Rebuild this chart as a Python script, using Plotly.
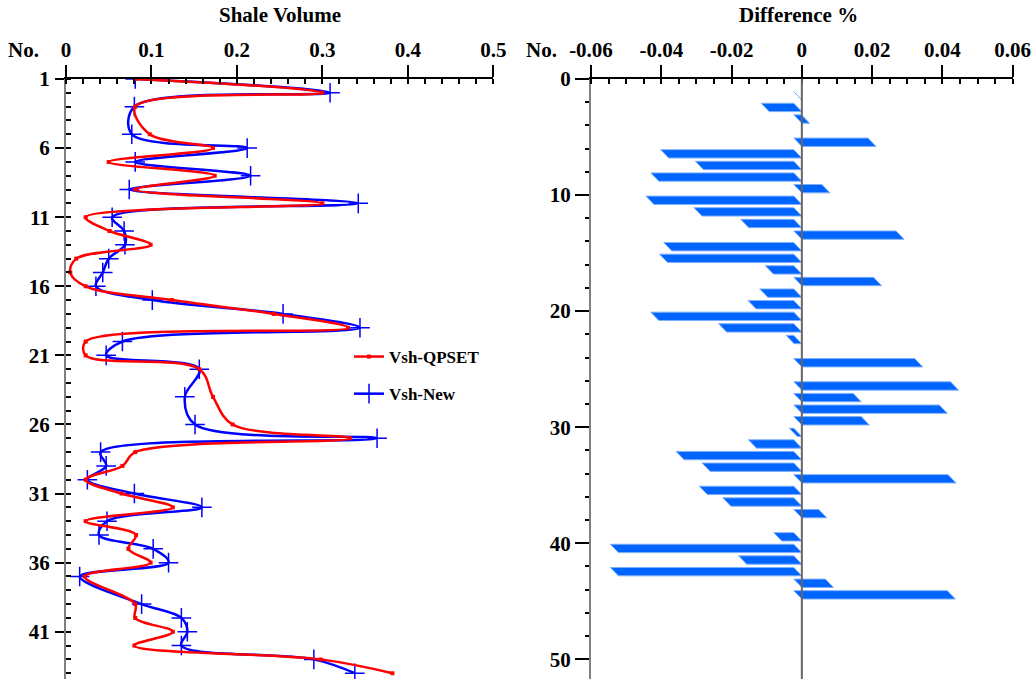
import plotly.graph_objects as go

# ---------------- data ----------------
sample_no = list(range(1, 45))
vsh_qpset = [0.081, 0.300, 0.081, None, 0.098, 0.172, 0.050, 0.174, 0.081, 0.300,
             0.023, 0.051, 0.099, 0.012, 0.005, 0.023, 0.124, 0.243, 0.330, 0.023,
             0.023, 0.156, None, 0.172, None, 0.195, 0.332, 0.081, 0.066, 0.023,
             0.065, 0.125, 0.023, 0.082, 0.073, 0.099, 0.022, None, 0.081, 0.081,
             0.125, 0.080, 0.298, 0.382]
vsh_new = [0.081, 0.309, 0.080, None, 0.077, 0.212, 0.081, 0.216, 0.074, 0.342,
           0.054, 0.068, 0.069, 0.050, 0.043, 0.035, 0.101, 0.254, 0.344, 0.066,
           0.047, 0.156, None, 0.139, None, 0.151, 0.364, 0.0405, 0.047, 0.025,
           0.080, 0.159, 0.048, 0.0386, 0.102, 0.120, 0.016, None, 0.0885, 0.135,
           0.142, 0.135, 0.290, 0.338]
diff_pct = [0.0, -0.0093, 0.0022, None, 0.0211, -0.0379, -0.0280, -0.0407, 0.0080, -0.0421,
            -0.0284, -0.0151, 0.0291, -0.0370, -0.0382, -0.0081, 0.0227, -0.0097, -0.0130, -0.0407,
            -0.0214, -0.0022, None, 0.0344, None, 0.0446, 0.0169, 0.0414, 0.0192, -0.0013,
            -0.0129, -0.0335, -0.0261, 0.0439, -0.0269, -0.0202, 0.0071, None, -0.0057, -0.0522,
            -0.0157, -0.0522, 0.0090, 0.0437]

vol_tickvals = [0, 0.1, 0.2, 0.3, 0.4, 0.5]
vol_ticktext = ["0", "0.1", "0.2", "0.3", "0.4", "0.5"]
no_tickvals = [1, 6, 11, 16, 21, 26, 31, 36, 41]
diff_tickvals = [-0.06, -0.04, -0.02, 0, 0.02, 0.04, 0.06]
diff_ticktext = ["-0.06", "-0.04", "-0.02", "0", "0.02", "0.04", "0.06"]
diff_ytickvals = [0, 10, 20, 30, 40, 50]

# ---------------- style ----------------
W, H = 1036, 679
FONT = "Liberation Serif"
RED = "#ff0000"
BLUE = "#0000ff"
BAR_FILL = "#0064ff"
BAR_EDGE = "#7fb0ff"
BAR_OFFSET = 0.45
BAR_H = 0.72
SKEW = 0.0023

def px_x(p):
    return p / W

def px_y(p):
    return 1 - p / H

fig = go.Figure()

# left panel curves (blue drawn first so red is on top)
fig.add_trace(go.Scatter(
    x=vsh_new, y=sample_no, name="Vsh-New", mode="lines+markers",
    line=dict(color=BLUE, width=2.5, shape="spline", smoothing=1.0),
    marker=dict(symbol="cross-thin", size=14, color=BLUE, line=dict(color=BLUE, width=1.5)),
    connectgaps=True, xaxis="x", yaxis="y", legendrank=2, legendgroup="b"))
fig.add_trace(go.Scatter(
    x=vsh_qpset, y=sample_no, name="Vsh-QPSET", mode="lines+markers",
    line=dict(color=RED, width=2.5, shape="spline", smoothing=1.0),
    marker=dict(symbol="square", size=4, color=RED),
    connectgaps=True, xaxis="x", yaxis="y", legendrank=1, legendgroup="a"))

# right panel skewed bars
bx, by = [], []
half = BAR_H / 2
for k, v in zip(sample_no, diff_pct):
    if v is None:
        continue
    c = k + BAR_OFFSET
    x0, x1 = min(v, 0), max(v, 0)
    bx += [x0, x1, x1 - SKEW, x0 - SKEW, x0, None]
    by += [c + half, c + half, c - half, c - half, c + half, None]
fig.add_trace(go.Scatter(
    x=bx, y=by, mode="lines", fill="toself", fillcolor=BAR_FILL,
    line=dict(color=BAR_EDGE, width=1), showlegend=False,
    xaxis="x2", yaxis="y2", hoverinfo="skip"))

tickfont = dict(family=FONT, size=21, color="black", weight="bold")

common_x = dict(side="top", showgrid=False, zeroline=False, showline=True,
                linecolor="black", linewidth=1.5, ticks="outside", ticklen=12,
                tickwidth=1.5, tickcolor="black", tickfont=tickfont,
                ticklabelstandoff=0, automargin=False)
common_y = dict(showgrid=False, zeroline=False, showline=True, linecolor="#808080",
                linewidth=2, ticks="outside", tickwidth=1.5, tickcolor="black",
                tickfont=tickfont, automargin=False)

fig.update_layout(
    template="none",
    width=W, height=H, margin=dict(l=0, r=0, t=0, b=0, pad=0, autoexpand=False),
    paper_bgcolor="white", plot_bgcolor="white",
    xaxis=dict(**common_x, anchor="y", domain=[px_x(66), px_x(493.3)],
               range=[0, 0.5], tickvals=vol_tickvals, ticktext=vol_ticktext,
               minor=dict(dtick=0.02, tick0=0, ticks="inside", ticklen=5,
                          tickwidth=1.5, tickcolor="black")),
    yaxis=dict(**common_y, anchor="x", domain=[0, px_y(79)], range=[44.42, 1],
               tickvals=no_tickvals, ticklen=9, ticklabelstandoff=1,
               minor=dict(dtick=1, tick0=1, ticks="inside", ticklen=5,
                          tickwidth=1.5, tickcolor="black")),
    xaxis2=dict(**common_x, anchor="y2", domain=[px_x(591), px_x(1012.7)],
                range=[-0.06, 0.06], tickvals=diff_tickvals, ticktext=diff_ticktext,
                minor=dict(dtick=0.005, tick0=0, ticks="inside", ticklen=5,
                           tickwidth=1.5, tickcolor="black")),
    yaxis2=dict(**common_y, anchor="x2", domain=[0, px_y(79)], range=[51.7, 0],
                tickvals=diff_ytickvals, ticklen=14, ticklabelstandoff=0,
                minor=dict(dtick=2, tick0=0, ticks="outside", ticklen=4,
                           tickwidth=1.5, tickcolor="black")),
    legend=dict(x=px_x(349), y=px_y(339), xanchor="left", yanchor="top",
                bgcolor="rgba(0,0,0,0)", traceorder="grouped", tracegroupgap=12,
                font=dict(family=FONT, size=17, color="black", weight="bold"),
                itemwidth=30),
    showlegend=True,
)

# zero line on the difference panel
fig.add_shape(type="line", xref="x2", yref="y2 domain", x0=0, x1=0, y0=0, y1=1,
              line=dict(color="#666666", width=2), layer="above")

ann_font = dict(family=FONT, size=21, color="black", weight="bold")
for text, x, y in [("Shale Volume", 279.5, 15), ("Difference %", 798.7, 15),
                   ("No.", 23, 50), ("No.", 541, 50)]:
    fig.add_annotation(text=text, x=px_x(x), y=px_y(y), xref="paper", yref="paper",
                       showarrow=False, xanchor="center", yanchor="middle",
                       font=ann_font if "No" not in text else tickfont)

fig.write_html("out.html")
